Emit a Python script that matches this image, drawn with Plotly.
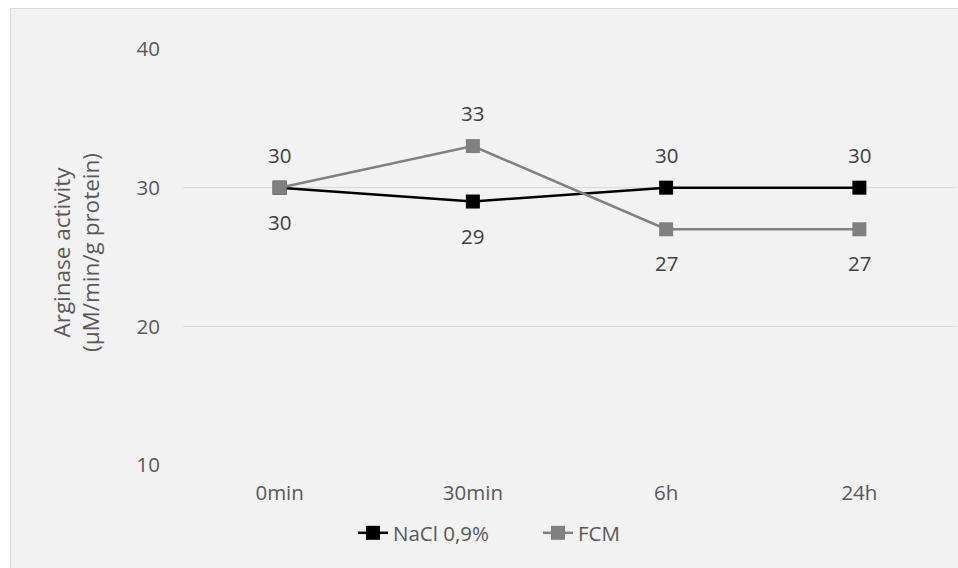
import plotly.graph_objects as go

categories = ["0min", "30min", "6h", "24h"]
nacl = [30, 29, 30, 30]
fcm = [30, 33, 27, 27]
nacl_label_pos = ["below", "below", "above", "above"]
fcm_label_pos = ["above", "above", "below", "below"]

W, H = 958, 568
ML, MR, MT, MB = 183, 2, 49, 103
pw, ph = W - ML - MR, H - MT - MB

FONT = "Open Sans"
FS = 20.5
FS_TITLE = 22.5

fig = go.Figure()
fig.add_trace(go.Scatter(
    x=categories, y=nacl, name="NaCl 0,9%", mode="lines+markers",
    line=dict(color="#000000", width=2.5),
    marker=dict(symbol="square", size=14, color="#000000"),
))
fig.add_trace(go.Scatter(
    x=categories, y=fcm, name="FCM", mode="lines+markers",
    line=dict(color="#808080", width=2.5),
    marker=dict(symbol="square", size=14, color="#808080"),
))

annotations = []
for vals, pos in ((nacl, nacl_label_pos), (fcm, fcm_label_pos)):
    for c, v, p in zip(categories, vals, pos):
        annotations.append(dict(
            x=c, y=v, xref="x", yref="y", text=str(v), showarrow=False,
            yshift=33 if p == "above" else -34,
            font=dict(family=FONT, size=FS, color="#404040"),
        ))

# y-axis title
annotations.append(dict(
    x=(76 - ML) / pw, y=(H - MB - 252) / ph, xref="paper", yref="paper",
    text="Arginase activity<br>(µM/min/g protein)", showarrow=False,
    textangle=-90, xanchor="center", yanchor="middle",
    font=dict(family=FONT, size=FS_TITLE, color="#595959"),
))

shapes = [dict(
    type="rect", xref="paper", yref="paper", layer="below",
    x0=(10.5 - ML) / pw, x1=(W + 40 - ML) / pw,
    y0=(H - MB - (H + 40)) / ph, y1=(H - MB - 8.5) / ph,
    fillcolor="#F2F2F2", line=dict(color="#D9D9D9", width=1),
)]

fig.update_layout(
    width=W, height=H,
    margin=dict(l=ML, r=MR, t=MT, b=MB),
    paper_bgcolor="#FFFFFF", plot_bgcolor="rgba(0,0,0,0)",
    font=dict(family=FONT, size=FS, color="#595959"),
    showlegend=True,
    legend=dict(
        orientation="h", x=(538 - ML) / pw, y=(H - MB - 533) / ph,
        xanchor="center", yanchor="middle",
        font=dict(family=FONT, size=FS, color="#595959"),
        bgcolor="rgba(0,0,0,0)", entrywidth=140,
    ),
    annotations=annotations,
    shapes=shapes,
)
fig.update_xaxes(
    type="category", range=[-0.5, 3.5], showgrid=False, zeroline=False,
    showline=False, ticks="", ticklabelstandoff=13,
    tickfont=dict(family=FONT, size=FS, color="#595959"),
)
fig.update_yaxes(
    range=[10, 40], tickvals=[10, 20, 30, 40], showgrid=True,
    gridcolor="#D9D9D9", gridwidth=1, zeroline=False, showline=False,
    ticks="", ticklabelstandoff=22,
    tickfont=dict(family=FONT, size=FS, color="#595959"),
)

fig.write_html("out.html")
